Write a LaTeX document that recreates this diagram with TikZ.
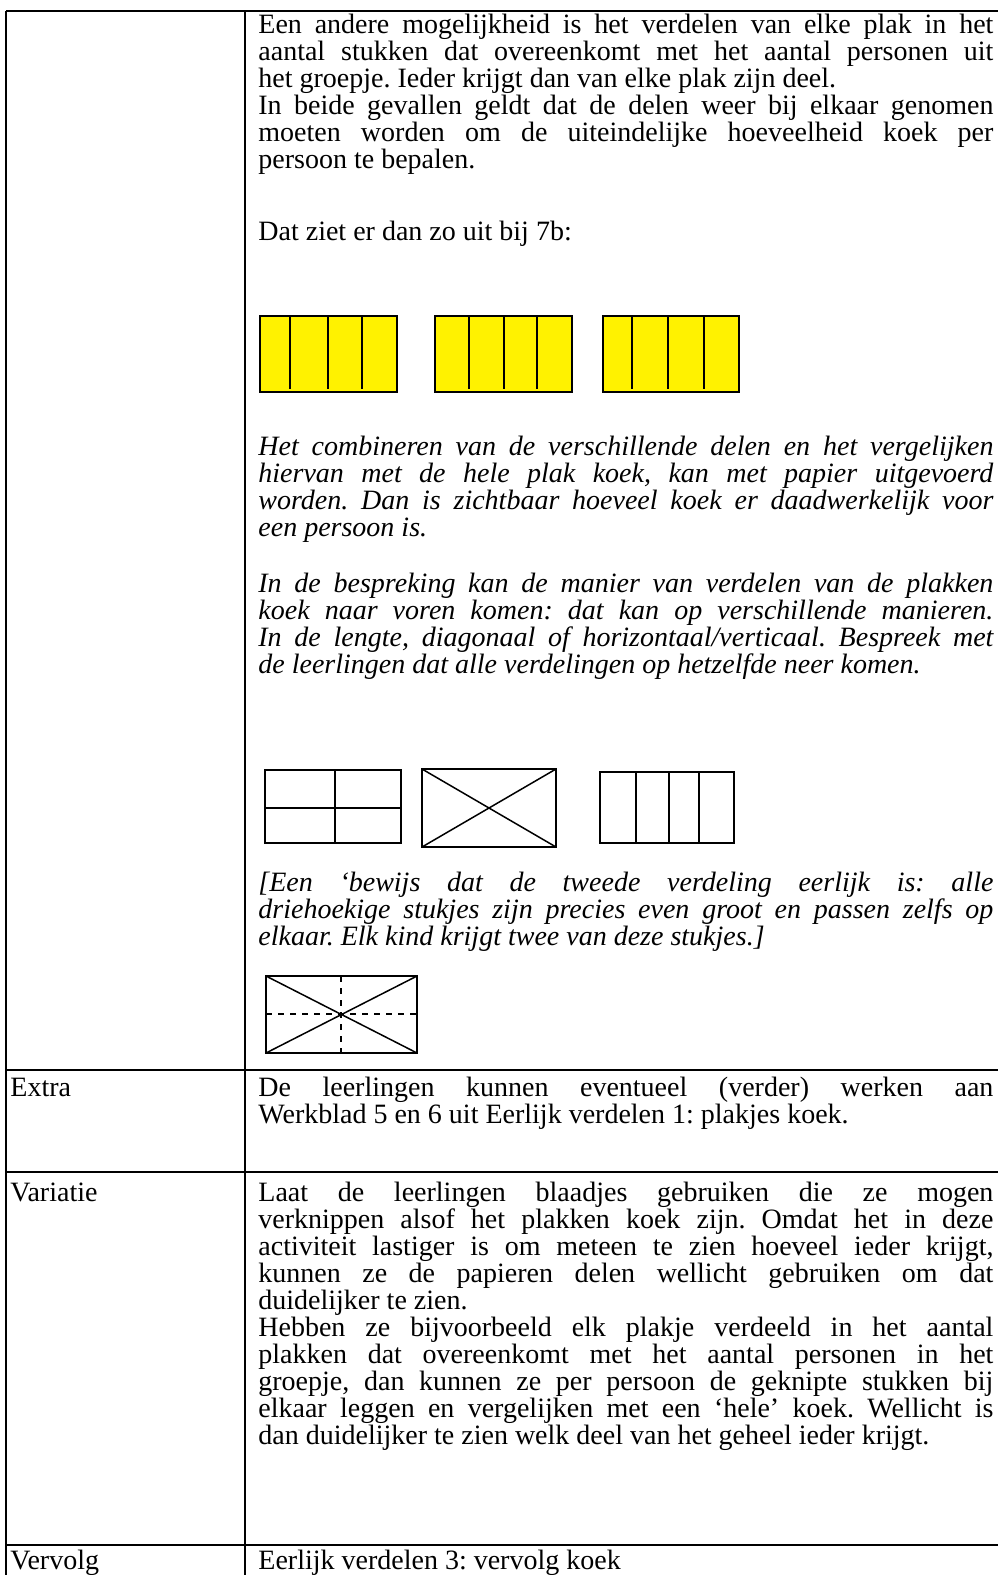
\documentclass[tikz,border=0pt]{standalone}
\usepackage{fontspec}
\setmainfont{Liberation Serif}
\usepackage{tikz}
\hbadness=10000
\tolerance=10000
\frenchspacing

\newcommand{\cellfont}{\fontsize{14pt}{13.55pt}\selectfont}

\begin{document}
\begin{tikzpicture}[
        x=0.5pt, y=-0.5pt,
        every node/.style={inner sep=0pt, font=\cellfont},
        cell/.style={anchor=base west, text width=367.5pt, align=justify},
        rowname/.style={anchor=base west},
        rule/.style={line width=1pt},
        slab/.style={draw, line width=0.75pt},
        koek/.style={slab, fill=yellow}
        ]

        \useasboundingbox (0,0) rectangle (998,1575);

        % Table
        \draw[rule] (6,11) -- (998,11);
        \draw[rule] (6,1070) -- (998,1070);
        \draw[rule] (6,1172) -- (998,1172);
        \draw[rule] (6,1545) -- (998,1545);
        \draw[rule] (6,11) -- (6,1575);
        \draw[rule] (245,11) -- (245,1575);

        % Text
        \node[cell] (uitleg) at (258,33) {Een andere mogelijkheid is het verdelen van elke plak in het\linebreak
        aantal stukken dat overeenkomt met het aantal personen uit\linebreak
        het groepje. Ieder krijgt dan van elke plak zijn deel.\\
        In beide gevallen geldt dat de delen weer bij elkaar genomen\linebreak
        moeten worden om de uiteindelijke hoeveelheid koek per\linebreak
        persoon te bepalen.};

        \node[cell] (voorbeeld) at (258,240) {Dat ziet er dan zo uit bij 7b:};

        \node[cell, font=\cellfont\itshape] (combineren) at (258,455) {Het combineren van de verschillende delen en het vergelijken\linebreak
        hiervan met de hele plak koek, kan met papier uitgevoerd\linebreak
        worden. Dan is zichtbaar hoeveel koek er daadwerkelijk voor\linebreak
        een persoon is.};

        \node[cell, font=\cellfont\itshape] (bespreking) at (258,592) {In de bespreking kan de manier van verdelen van de plakken\linebreak
        koek naar voren komen: dat kan op verschillende manieren.\linebreak
        In de lengte, diagonaal of horizontaal/verticaal. Bespreek met\linebreak
        de leerlingen dat alle verdelingen op hetzelfde neer komen.};

        \node[cell, font=\cellfont\itshape] (bewijs) at (258,891) {[Een ‘bewijs dat de tweede verdeling eerlijk is: alle\linebreak
        driehoekige stukjes zijn precies even groot en passen zelfs op\linebreak
        elkaar. Elk kind krijgt twee van deze stukjes.]};

        \node[rowname] (extra) at (10,1096) {Extra};
        \node[cell] (extratekst) at (258,1096) {De leerlingen kunnen eventueel (verder) werken aan\linebreak
        Werkblad 5 en 6 uit Eerlijk verdelen 1: plakjes koek.};

        \node[rowname] (variatie) at (10,1201) {Variatie};
        \node[cell] (variatietekst) at (258,1201) {Laat de leerlingen blaadjes gebruiken die ze mogen\linebreak
        verknippen alsof het plakken koek zijn. Omdat het in deze\linebreak
        activiteit lastiger is om meteen te zien hoeveel ieder krijgt,\linebreak
        kunnen ze de papieren delen wellicht gebruiken om dat\linebreak
        duidelijker te zien.\\
        Hebben ze bijvoorbeeld elk plakje verdeeld in het aantal\linebreak
        plakken dat overeenkomt met het aantal personen in het\linebreak
        groepje, dan kunnen ze per persoon de geknipte stukken bij\linebreak
        elkaar leggen en vergelijken met een ‘hele’ koek. Wellicht is\linebreak
        dan duidelijker te zien welk deel van het geheel ieder krijgt.};

        \node[rowname] (vervolg) at (10,1569) {Vervolg};
        \node[cell] (vervolgtekst) at (258,1569) {Eerlijk verdelen 3: vervolg koek};

        % Yellow slabs
        \draw[koek] (260,316) rectangle (397,392);
        \foreach \x in {290,328,362} \draw[line width=0.75pt] (\x,316) -- (\x,389);
        \draw[koek] (435,316) rectangle (572,392);
        \foreach \x in {469,504,537} \draw[line width=0.75pt] (\x,316) -- (\x,389);
        \draw[koek] (603,316) rectangle (739,392);
        \foreach \x in {632,668,704} \draw[line width=0.75pt] (\x,316) -- (\x,389);

        % Ways of dividing
        \draw[slab] (265,770) rectangle (401,843);
        \draw[line width=0.75pt] (335,770) -- (335,843);
        \draw[line width=0.75pt] (265,808) -- (401,808);

        \draw[slab] (422,769) rectangle (556,847);
        \draw[line width=0.75pt] (422,769) -- (556,847);
        \draw[line width=0.75pt] (422,847) -- (556,769);

        \draw[slab] (600,772) rectangle (734,843);
        \foreach \x in {636,669,699} \draw[line width=0.75pt] (\x,772) -- (\x,843);

        % Proof sketch
        \draw[slab] (266,976) rectangle (417,1053);
        \draw[line width=0.75pt] (266,976) -- (417,1053);
        \draw[line width=0.75pt] (266,1053) -- (417,976);
        \draw[line width=0.75pt, dashed] (341,976) -- (341,1053);
        \draw[line width=0.75pt, dashed] (266,1014) -- (417,1014);

\end{tikzpicture}
\end{document}
